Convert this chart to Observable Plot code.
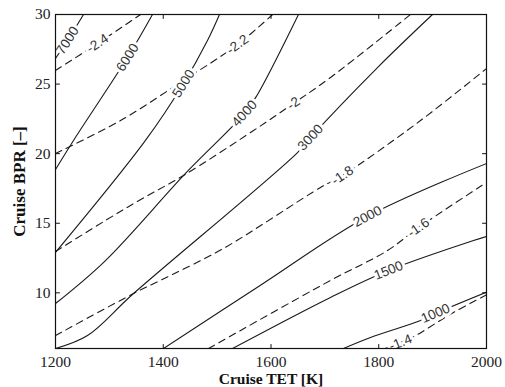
<!DOCTYPE html>
<html>
<head>
<meta charset="utf-8">
<script src="https://cdn.jsdelivr.net/npm/d3@7"></script>
<script src="https://cdn.jsdelivr.net/npm/@observablehq/plot@0.6"></script>
<style>
  body { margin: 0; background: #fff; }
</style>
</head>
<body>
<div id="chart"></div>
<script>
// Axis ticks
const tetTicks = [1200, 1400, 1600, 1800, 2000];
const bprTicks = [10, 15, 20, 25, 30];
const tetDomain = [1200, 2000];
const bprDomain = [6, 30];

// Solid iso-lines: [cruise TET, cruise BPR] vertices
const c7000 = [[1200, 26.84], [1222.3, 28.13], [1252, 30]];
const c6000 = [[1200, 18.86], [1233.4, 20.95], [1333.6, 26.91], [1380, 30]];
const c5000 = [[1200, 12.90], [1367.0, 20.95], [1437.6, 25.04], [1482.1, 28.13], [1504.4, 30]];
const c4000 = [[1200, 9.23], [1292.8, 12.32], [1441.3, 18.58], [1550.8, 22.89], [1573.9, 24.18], [1651, 30]];
const c3000 = [[1200, 6.0], [1259.4, 6.93], [1344.8, 9.95], [1649.2, 20.08], [1673.3, 21.16], [1797.7, 26.19], [1899.8, 30]];
const c2000 = [[1400.5, 6.0], [1580.5, 10.55], [1779.1, 15.49], [2000, 19.29]];
const c1500 = [[1528.5, 6.0], [1710.4, 9.67], [1818.1, 11.61], [1975.9, 13.76], [2000, 14.05]];
const c1000 = [[1734.6, 6.0], [1784.7, 6.79], [1877.5, 8.01], [1905.3, 8.52], [2000, 10.05]];

// Dashed iso-lines
const dm24 = [[1200, 25.98], [1278, 27.92], [1358, 30]];
const dm22 = [[1200, 20.01], [1320.6, 22.38], [1437.6, 25.26], [1537.8, 27.84], [1603, 30]];
const dm20 = [[1200, 12.97], [1292.8, 15.20], [1361.5, 16.78], [1437.6, 18.43], [1567.5, 21.66], [1641.7, 23.61], [1710.4, 25.47], [1858.9, 30]];
const dm18 = [[1200, 6.93], [1344.8, 9.95], [1413.5, 11.25], [1511.8, 13.19], [1691.9, 17.57], [1732.7, 18.43], [1877.5, 22.38], [2000, 26.12]];
const dm16 = [[1484, 6.0], [1710.4, 10.89], [1816.2, 13.04], [1873.8, 14.69], [2000, 17.93]];
const dm14 = [[1812, 6.0], [1840.4, 6.43], [1859, 6.72], [1938.7, 8.59], [2000, 9.85]];

const solidLevels = ["7000", "6000", "5000", "4000", "3000", "2000", "1500", "1000"];
const solidLines = [c7000, c6000, c5000, c4000, c3000, c2000, c1500, c1000];
const dashedLevels = ["-2.4", "-2.2", "-2", "-1.8", "-1.6", "-1.4"];
const dashedLines = [dm24, dm22, dm20, dm18, dm16, dm14];

// Inline labels
const labelText = ["7000", "-2.4", "6000", "-2.2", "5000", "4000", "-2", "3000", "-1.8", "2000", "-1.6", "1500", "1000", "-1.4"];
const labelTET  = [1222.3, 1278, 1333.6, 1537.8, 1437.6, 1550.8, 1641.7, 1673.3, 1732.7, 1779.1, 1873.8, 1818.1, 1905.3, 1840.4];
const labelBPR  = [28.13, 27.92, 26.91, 27.84, 25.04, 22.89, 23.61, 21.16, 18.43, 15.49, 14.69, 11.61, 8.52, 6.43];

const width = 505, height = 387;
const marginLeft = 55, marginRight = 19, marginTop = 14, marginBottom = 39;

const toRows = (levels, lines) =>
  lines.flatMap((pts, i) => pts.map(([tet, bpr]) => ({level: levels[i], tet, bpr})));
const solidRows = toRows(solidLevels, solidLines);
const dashedRows = toRows(dashedLevels, dashedLines);

// Orient each label along its own line
const sx = d3.scaleLinear(tetDomain, [marginLeft, width - marginRight]);
const sy = d3.scaleLinear(bprDomain, [height - marginBottom, marginTop]);
const lineOf = new Map([
  ...solidLevels.map((l, i) => [l, solidLines[i]]),
  ...dashedLevels.map((l, i) => [l, dashedLines[i]])
]);
const labels = labelText.map((text, i) => {
  const pts = lineOf.get(text);
  const x = labelTET[i], y = labelBPR[i];
  const k = d3.minIndex(pts, ([a, b]) => (sx(a) - sx(x)) ** 2 + (sy(b) - sy(y)) ** 2);
  const p0 = pts[Math.max(0, k - 1)], p1 = pts[Math.min(pts.length - 1, k + 1)];
  const angle = Math.atan2(sy(p1[1]) - sy(p0[1]), sx(p1[0]) - sx(p0[0])) * 180 / Math.PI;
  return {text, x, y, angle};
});

// Short inward tick shape for the box ticks
const tickShape = {draw(context, l) { context.moveTo(0, 0); context.lineTo(0, -l); }};
const tickOpts = {length: 4, anchor: "start", shape: tickShape, stroke: "#111", strokeWidth: 1};

const serif = "'Liberation Serif', 'Times New Roman', serif";
const sans = "'Liberation Sans', Arial, sans-serif";

const chart = Plot.plot({
  width, height, marginLeft, marginRight, marginTop, marginBottom,
  style: {fontFamily: serif, background: "#fff"},
  x: {domain: tetDomain},
  y: {domain: bprDomain},
  marks: [
    Plot.line(solidRows, {x: "tet", y: "bpr", z: "level", stroke: "#1a1a1a", strokeWidth: 1.1, curve: "catmull-rom", clip: true}),
    Plot.line(dashedRows, {x: "tet", y: "bpr", z: "level", stroke: "#1a1a1a", strokeWidth: 1.1, strokeDasharray: "7,5", curve: "catmull-rom", clip: true}),
    Plot.text(labels, {x: "x", y: "y", text: "text", rotate: "angle", fontFamily: sans, fontSize: 13.5, fill: "#333", stroke: "white", strokeWidth: 6, paintOrder: "stroke"}),
    Plot.frame({stroke: "#111", strokeWidth: 1.2}),
    Plot.vector(tetTicks, {x: d => d, frameAnchor: "bottom", rotate: 0, ...tickOpts}),
    Plot.vector(tetTicks, {x: d => d, frameAnchor: "top", rotate: 180, ...tickOpts}),
    Plot.vector(bprTicks, {y: d => d, frameAnchor: "left", rotate: 90, ...tickOpts}),
    Plot.vector(bprTicks, {y: d => d, frameAnchor: "right", rotate: -90, ...tickOpts}),
    Plot.axisX(tetTicks, {tickSize: 0, tickPadding: 7, tickFormat: d => String(d), fontSize: 15.5, fontFamily: serif, fill: "#222", label: null}),
    Plot.axisY(bprTicks, {tickSize: 0, tickPadding: 5, tickFormat: d => String(d), fontSize: 15.5, fontFamily: serif, fill: "#222", label: null}),
    Plot.text(["Cruise TET [K]"], {text: d => d, frameAnchor: "bottom", lineAnchor: "middle", dy: 30.5, fontSize: 15.5, fontWeight: "bold", fontFamily: serif, fill: "#111"}),
    Plot.text(["Cruise BPR [–]"], {text: d => d, frameAnchor: "left", textAnchor: "middle", lineAnchor: "middle", dx: -36, rotate: -90, fontSize: 17, fontWeight: "bold", fontFamily: serif, fill: "#111"})
  ]
});
document.getElementById("chart").appendChild(chart);
</script>
</body>
</html>
